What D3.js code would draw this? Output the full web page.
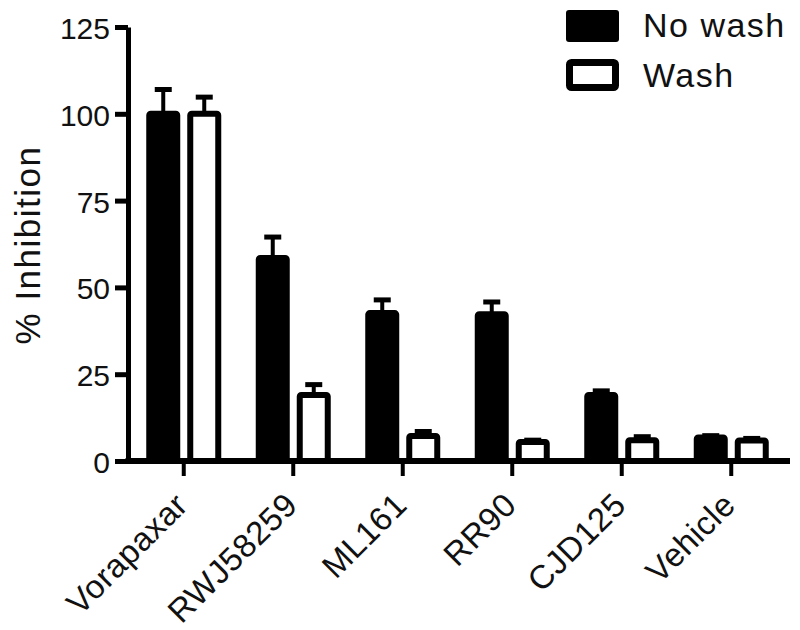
<!DOCTYPE html>
<html>
<head>
<meta charset="utf-8">
<script src="https://cdn.jsdelivr.net/npm/d3@7"></script>
<style>
  html, body { margin: 0; padding: 0; background: #fff; }
  svg { display: block; }
  text { font-family: "Liberation Sans", Arial, sans-serif; fill: #111; }
</style>
</head>
<body>
<svg id="chart" width="800" height="630"></svg>
<script>
const categories = ["Vorapaxar", "RWJ58259", "ML161", "RR90", "CJD125", "Vehicle"];
const seriesNames = ["No wash", "Wash"];
const noWash = [100, 58.5, 42.6, 42.3, 19.0, 6.8];
const noWashErr = [7, 6, 3.8, 3.5, 1.2, 0.5];
const wash = [100, 19.0, 7.2, 5.5, 6.0, 5.9];
const washErr = [4.8, 3, 1.3, 0.5, 1.0, 0.6];
const yTicks = [0, 25, 50, 75, 100, 125];

const svg = d3.select("#chart");
const stroke = 6;

const y = d3.scaleLinear().domain([0, 125]).range([461, 27]);
const x = d3.scaleBand().domain(categories).range([129, 786]).paddingInner(0).paddingOuter(0);
const sub = d3.scaleBand().domain(seriesNames).range([-41, 41]).padding(0);
const barOuter = 34;

const rows = [];
categories.forEach((c, i) => {
  rows.push({cat: c, series: "No wash", v: noWash[i], e: noWashErr[i]});
  rows.push({cat: c, series: "Wash", v: wash[i], e: washErr[i]});
});
const cx = d => x(d.cat) + x.bandwidth() / 2 + sub(d.series) + sub.bandwidth() / 2;

// error bars (upper only)
const eb = svg.append("g");
eb.selectAll("line.stem").data(rows).join("line")
  .attr("x1", cx).attr("x2", cx)
  .attr("y1", d => y(d.v)).attr("y2", d => y(d.v + d.e))
  .attr("stroke", "#000").attr("stroke-width", 4);
eb.selectAll("line.cap").data(rows).join("line")
  .attr("x1", d => cx(d) - 8.5).attr("x2", d => cx(d) + 8.5)
  .attr("y1", d => y(d.v + d.e)).attr("y2", d => y(d.v + d.e))
  .attr("stroke", "#000").attr("stroke-width", 5);

// bars
svg.append("g").selectAll("rect").data(rows).join("rect")
  .attr("x", d => cx(d) - (barOuter - stroke) / 2)
  .attr("width", barOuter - stroke)
  .attr("y", d => y(d.v))
  .attr("height", d => y(0) - y(d.v))
  .attr("rx", 1.5)
  .attr("fill", d => d.series === "No wash" ? "#000" : "#fff")
  .attr("stroke", "#000").attr("stroke-width", stroke);

// y axis
const yAxis = svg.append("g").attr("transform", "translate(128,0)")
  .call(d3.axisLeft(y).tickValues(yTicks).tickSize(13).tickSizeOuter(0).tickPadding(5));
yAxis.select(".domain").attr("stroke", "#000").attr("stroke-width", 5);
yAxis.selectAll(".tick line").attr("stroke", "#000").attr("stroke-width", 5);
yAxis.selectAll(".tick text").attr("font-size", 30).attr("font-family", "Liberation Sans, Arial, sans-serif").attr("fill", "#111").attr("dy", "0.38em");

// x axis
const xAxis = svg.append("g").attr("transform", `translate(0,${y(0)})`)
  .call(d3.axisBottom(x).tickSize(15).tickSizeOuter(0));
xAxis.select(".domain").remove();
xAxis.append("line").attr("x1", 125.5).attr("x2", x.range()[1] + 4).attr("y1", 0).attr("y2", 0)
  .attr("stroke", "#000").attr("stroke-width", 6);
xAxis.selectAll(".tick line").attr("stroke", "#000").attr("stroke-width", 4);
xAxis.selectAll(".tick text")
  .attr("font-size", 33).attr("letter-spacing", 0.5).attr("font-family", "Liberation Sans, Arial, sans-serif").attr("fill", "#111")
  .attr("text-anchor", "end")
  .attr("y", 0).attr("dy", 0)
  .attr("transform", "translate(6,46) rotate(-45)");

// y label
svg.append("text")
  .attr("transform", "translate(40,245) rotate(-90)")
  .attr("text-anchor", "middle")
  .attr("font-size", 35).attr("letter-spacing", 1.5)
  .text("% Inhibition");

// legend
const lg = svg.append("g");
seriesNames.forEach((s, i) => {
  const gy = i * 50;
  if (s === "No wash") {
    lg.append("rect").attr("x", 566).attr("y", 10 + gy).attr("width", 53).attr("height", 32).attr("rx", 3).attr("fill", "#000");
  } else {
    lg.append("rect").attr("x", 569.5).attr("y", 13.5 + gy - 1).attr("width", 46).attr("height", 25).attr("rx", 2)
      .attr("fill", "#fff").attr("stroke", "#000").attr("stroke-width", 7);
  }
  lg.append("text").attr("x", 643).attr("y", 37 + gy).attr("font-size", 34).attr("letter-spacing", 1.5).text(s);
});
</script>
</body>
</html>
